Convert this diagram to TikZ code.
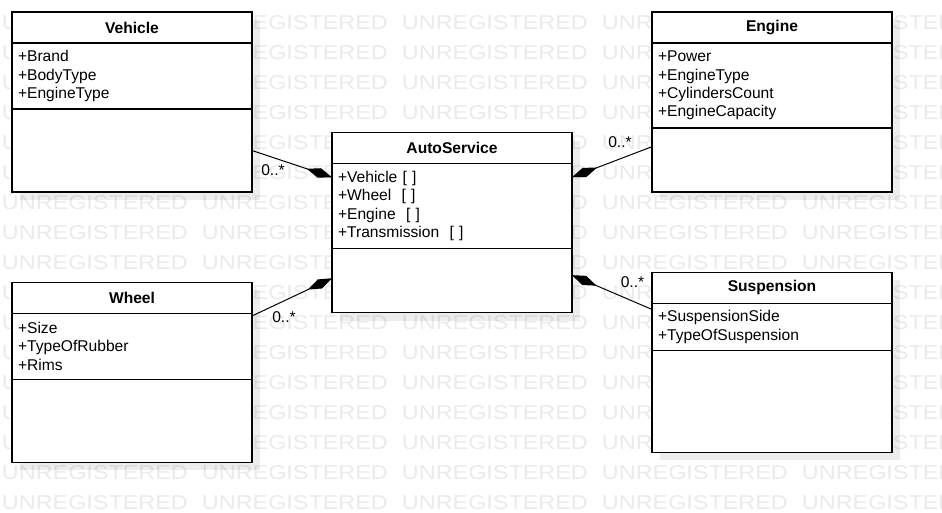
\documentclass[tikz,border=0pt]{standalone}
\usepackage{fontspec}
\setmainfont{Liberation Sans}
\newfontfamily\wmfont[FakeStretch=1.17]{Liberation Sans}
\usetikzlibrary{positioning,arrows.meta,shadows}
\definecolor{wmgray}{RGB}{234,234,234}

\begin{document}
\begin{tikzpicture}[
        x=0.75pt, y=-0.75pt,
        box_shadow/.style={drop shadow={shadow xshift=6pt, shadow yshift=-6pt, fill=black, opacity=0.07}},
        class_title/.style={rectangle, draw, line width=0.9pt, fill=white, box_shadow, minimum width=180pt, minimum height=23.25pt, inner sep=0pt, outer sep=0pt, font=\fontsize{11.7}{13.7}\selectfont\bfseries},
        attr_box/.style={rectangle, draw, line width=0.9pt, fill=white, box_shadow, text width=171pt, inner xsep=4.5pt, inner ysep=0pt, outer sep=0pt, align=left, font=\fontsize{11.7}{13.7}\selectfont},
        ops_box/.style={rectangle, draw, line width=0.9pt, fill=white, box_shadow, minimum width=180pt, inner sep=0pt, outer sep=0pt},
        mult_label/.style={inner sep=0pt, font=\fontsize{11.7}{13.7}\selectfont},
        composition/.style={draw, line width=0.75pt, -{Diamond[length=20pt, width=7.5pt]}},
        wmark/.style={anchor=base west, inner sep=0pt, text=wmgray, font=\wmfont\fontsize{15}{18}\selectfont}
    ]
        \useasboundingbox (0,0) rectangle (942,512);

        % Watermark rows in the background
        \begin{scope}
            \clip (0,0) rectangle (942,512);
            \foreach \r in {0,...,16}
                \foreach \c in {0,...,4}
                    \node[wmark] (wm_\r_\c) at (1.7+200*\c, 29.3+30*\r) {UNREGISTERED};
        \end{scope}

        % Vehicle class
        \node[class_title, anchor=north west] (vehicle) at (12,12) {Vehicle};
        \node[attr_box, minimum height=49.5pt, below=0pt of vehicle] (vehicle_attr) {+Brand\\+BodyType\\+EngineType};
        \node[ops_box, minimum height=62.25pt, below=0pt of vehicle_attr] (vehicle_ops) {};

        % Engine class
        \node[class_title, anchor=north west] (engine) at (652,12) {Engine};
        \node[attr_box, minimum height=63.75pt, below=0pt of engine] (engine_attr) {+Power\\+EngineType\\+CylindersCount\\+EngineCapacity};
        \node[ops_box, minimum height=48pt, below=0pt of engine_attr] (engine_ops) {};

        % AutoService class
        \node[class_title, anchor=north west] (autoservice) at (332,132.5) {AutoService};
        \node[attr_box, minimum height=63.75pt, below=0pt of autoservice] (autoservice_attr) {+Vehicle [ ]\\+Wheel~ [ ]\\+Engine~ [ ]\\+Transmission~ [ ]};
        \node[ops_box, minimum height=48pt, below=0pt of autoservice_attr] (autoservice_ops) {};

        % Wheel class
        \node[class_title, anchor=north west] (wheel) at (12,282.3) {Wheel};
        \node[attr_box, minimum height=49.5pt, below=0pt of wheel] (wheel_attr) {+Size\\+TypeOfRubber\\+Rims};
        \node[ops_box, minimum height=62.25pt, below=0pt of wheel_attr] (wheel_ops) {};

        % Suspension class
        \node[class_title, anchor=north west] (suspension) at (652,272.3) {Suspension};
        \node[attr_box, minimum height=35.5pt, below=0pt of suspension] (suspension_attr) {+SuspensionSide\\+TypeOfSuspension};
        \node[ops_box, minimum height=76.25pt, below=0pt of suspension_attr] (suspension_ops) {};

        % Compositions
        \draw[composition] (vehicle_ops.east) -- ([yshift=21.6pt]autoservice_attr.west);
        \draw[composition] ([yshift=-2pt]wheel_attr.north east) -- ([yshift=1.7pt]autoservice_ops.west);
        \draw[composition] ([yshift=10pt]engine_ops.west) -- ([yshift=21.6pt]autoservice_attr.east);
        \draw[composition] ([yshift=-4.6pt]suspension_attr.north west) -- ([yshift=4pt]autoservice_ops.east);

        % Multiplicities
        \node[mult_label] (vehicle_mult) at (273,170) {0..*};
        \node[mult_label] (wheel_mult) at (284,317) {0..*};
        \node[mult_label] (engine_mult) at (620,142) {0..*};
        \node[mult_label] (suspension_mult) at (632.5,282) {0..*};

    \end{tikzpicture}
\end{document}
